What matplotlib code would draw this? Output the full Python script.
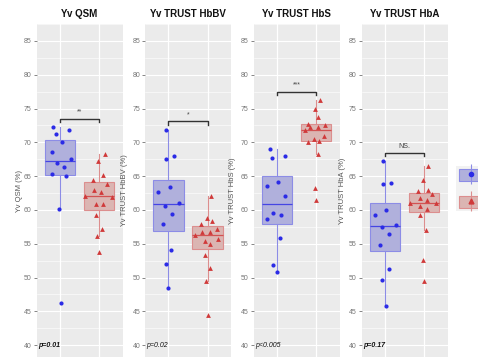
import numpy as np
import matplotlib
matplotlib.use("Agg")
import matplotlib.pyplot as plt
from matplotlib.patches import Patch
from matplotlib.lines import Line2D
from matplotlib.legend_handler import HandlerTuple

plt.rcParams["font.family"] = ["Liberation Sans", "DejaVu Sans"]

# values (group 1 = blue circles, group 2 = red triangles)
qsm_a = [72.2, 71.3, 71.8, 70.1, 68.6, 67.0, 67.5, 66.4, 65.3, 65.0, 60.1, 46.2]
qsm_a_jit = [-0.17, -0.10, 0.22, 0.04, -0.21, -0.07, 0.27, 0.10, -0.21, 0.16, -0.03, 0.02]
qsm_b = [68.2, 67.2, 65.1, 64.4, 63.8, 63.0, 62.6, 62.1, 61.9, 60.9, 60.8, 59.3, 57.2, 56.1, 53.7]
qsm_b_jit = [0.14, -0.02, 0.09, -0.16, 0.21, -0.13, 0.05, -0.35, 0.32, -0.07, 0.09, -0.09, 0.08, -0.06, 0.01]

hbbv_a = [71.8, 67.6, 67.9, 63.4, 62.7, 60.6, 61.0, 59.4, 57.9, 54.1, 52.0, 48.5]
hbbv_a_jit = [-0.06, -0.07, 0.14, 0.03, -0.26, -0.09, 0.28, 0.09, -0.15, 0.07, -0.07, 0.0]
hbbv_b = [62.1, 58.8, 58.3, 57.9, 57.2, 56.3, 56.7, 56.7, 55.7, 55.4, 55.0, 53.4, 51.4, 49.5, 44.5]
hbbv_b_jit = [0.10, -0.02, 0.12, -0.18, 0.25, -0.31, -0.14, 0.05, 0.28, -0.06, 0.07, -0.06, 0.06, -0.03, 0.02]

hbs_a = [69.0, 67.7, 68.0, 64.1, 63.5, 62.0, 59.6, 59.2, 58.6, 55.8, 51.9, 50.8]
hbs_a_jit = [-0.19, -0.13, 0.20, 0.03, -0.27, 0.21, -0.10, 0.09, -0.26, 0.07, -0.11, -0.01]
hbs_b = [76.2, 75.0, 73.8, 72.7, 72.6, 72.3, 72.2, 71.8, 71.0, 70.5, 70.1, 70.2, 68.2, 63.3, 61.5]
hbs_b_jit = [0.09, -0.02, 0.04, -0.22, 0.23, -0.16, 0.04, -0.28, 0.19, -0.07, -0.21, 0.08, 0.05, -0.04, 0.0]

hba_a = [67.3, 63.8, 64.0, 59.3, 60.0, 57.7, 57.5, 56.5, 54.8, 51.2, 49.6, 45.8]
hba_a_jit = [-0.06, -0.06, 0.14, -0.27, 0.03, 0.28, -0.09, 0.09, -0.12, 0.09, -0.07, 0.01]
hba_b = [66.5, 64.4, 62.8, 63.0, 62.3, 61.8, 61.4, 61.0, 61.0, 60.6, 60.1, 59.3, 57.0, 52.6, 49.5]
hba_b_jit = [0.09, -0.02, -0.17, 0.10, 0.20, -0.10, 0.06, -0.36, 0.31, -0.10, 0.06, -0.10, 0.04, -0.04, 0.0]

titles = ["Yv QSM", "Yv TRUST HbBV", "Yv TRUST HbS", "Yv TRUST HbA"]
ylabels = ["Yv QSM (%)", "Yv TRUST HbBV (%)", "Yv TRUST HbS (%)", "Yv TRUST HbA (%)"]
p_texts = ["p=0.01", "p=0.02", "p<0.005", "p=0.17"]
sig_texts = ["**", "*", "***", "NS."]
sig_levels = [73.5, 73.1, 77.5, 68.4]
# legend labels are cropped away in the reference, only the keys show
group_labels = ["", ""]

panels = [
    (qsm_a, qsm_a_jit, qsm_b, qsm_b_jit),
    (hbbv_a, hbbv_a_jit, hbbv_b, hbbv_b_jit),
    (hbs_a, hbs_a_jit, hbs_b, hbs_b_jit),
    (hba_a, hba_a_jit, hba_b, hba_b_jit),
]

W, H = 478, 358
BLUE, RED = "#2b2be6", "#d03a3a"
BLUE_FILL, RED_FILL = "#b0b0dc", "#dbb5b2"
BLUE_EDGE, RED_EDGE = "#8c8ce6", "#dc8e8e"

fig = plt.figure(figsize=(W / 100, H / 100), dpi=100)

lefts = [36.5, 145.0, 253.7, 361.7]   # panel left edges in px
pw = 86.0
top_px, bot_px = 24, 357
p_weights = ["bold", "normal", "normal", "bold"]
label_x = [23, 128, 236, 345.5]

for i, (a, aj, b, bj) in enumerate(panels):
    ax = fig.add_axes([lefts[i] / W, 1 - bot_px / H, pw / W, (bot_px - top_px) / H])
    ax.set_facecolor("#ebebeb")
    for s in ax.spines.values():
        s.set_visible(False)
    ax.set_xlim(0.4, 2.6)
    ax.set_ylim(38.24, 87.2)
    ax.set_yticks(np.arange(40, 86, 5))
    ax.set_yticks(np.arange(42.5, 88, 5), minor=True)
    ax.set_xticks([1, 2])
    ax.tick_params(axis="x", length=0, labelbottom=False)
    ax.tick_params(axis="y", which="major", length=2, width=0.5, color="#555555",
                   labelsize=5, labelcolor="#777777", pad=1.5)
    ax.tick_params(axis="y", which="minor", length=0)
    ax.grid(which="major", color="white", lw=0.8)
    ax.grid(which="minor", axis="y", color="white", lw=0.4)
    ax.set_axisbelow(True)

    bp = ax.boxplot([a, b], positions=[1, 2], widths=0.77, patch_artist=True,
                    showfliers=False, showcaps=False, whis=1.5)
    for k, (fc, ec, mc) in enumerate([(BLUE_FILL, BLUE_EDGE, BLUE), (RED_FILL, RED_EDGE, RED)]):
        bp["boxes"][k].set(facecolor=fc, edgecolor=ec, lw=0.8, zorder=2)
        bp["medians"][k].set(color=mc, lw=0.9, alpha=0.8, zorder=3)
        for wk in bp["whiskers"][2 * k:2 * k + 2]:
            wk.set(color=ec, lw=0.8)

    ax.scatter(1 + np.array(aj), a, marker="o", s=9, color=BLUE, lw=0, zorder=4)
    ax.scatter(2 + np.array(bj), b, marker="^", s=12, color=RED, lw=0, zorder=4)

    lv = sig_levels[i]
    ax.plot([1, 1, 2, 2], [lv - 0.5, lv, lv, lv - 0.5], color="#333333", lw=1.0)
    ax.text(1.5, lv + 0.5, sig_texts[i], ha="center", va="bottom", fontsize=5,
            color="#444444")

    ax.text(0.43, 40, p_texts[i], ha="left", va="center", fontsize=5,
            style="italic", weight=p_weights[i], color="#111111")

    ax.set_title(titles[i], fontsize=7, weight="bold", pad=5, color="#111111")
    ax.set_ylabel(ylabels[i], fontsize=5.5, color="#555555")
    ax.yaxis.set_label_coords((label_x[i] - lefts[i]) / pw, 0.5)

handles = [
    (Patch(facecolor=BLUE_FILL, edgecolor=BLUE_EDGE, lw=0.8),
     Line2D([], [], color=BLUE_EDGE, marker="|", markersize=14, lw=0, mew=0.8),
     Line2D([], [], color=BLUE, marker="o", markersize=3, lw=0)),
    (Patch(facecolor=RED_FILL, edgecolor=RED_EDGE, lw=0.8),
     Line2D([], [], color=RED_EDGE, marker="|", markersize=14, lw=0, mew=0.8),
     Line2D([], [], color=RED, marker="^", markersize=3.5, lw=0)),
]
fig.legend(handles, group_labels, handler_map={tuple: HandlerTuple(ndivide=1, pad=0)},
           loc="upper left", bbox_to_anchor=(456 / W, 1 - 166 / H), fontsize=6,
           handlelength=2.9, handleheight=1.7, labelspacing=1.9, borderpad=0.4,
           borderaxespad=0, handletextpad=1.0, frameon=True, facecolor="#f2f2f2",
           edgecolor="none", framealpha=1, fancybox=False)

fig.savefig("out.png", dpi=100)
